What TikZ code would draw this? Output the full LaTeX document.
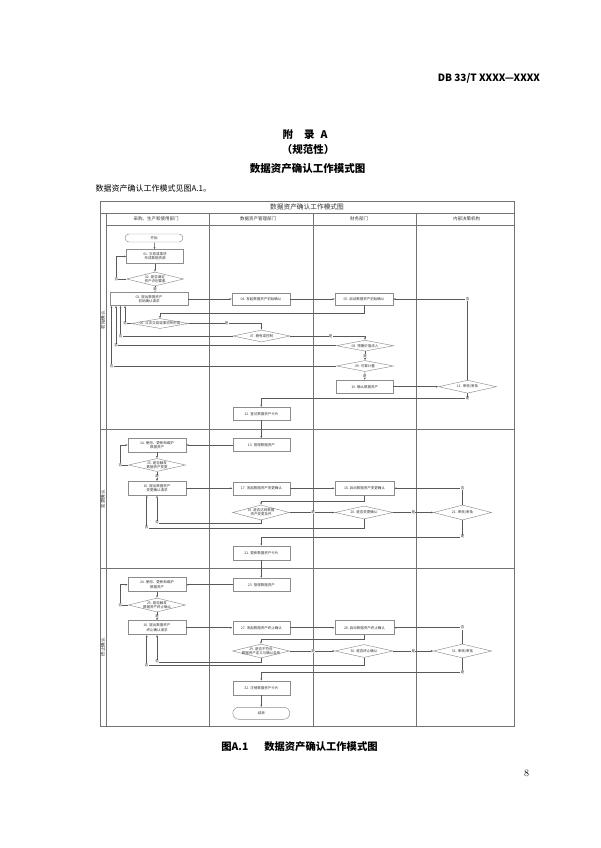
\documentclass[tikz,border=0pt]{standalone}
\usepackage{fontspec}
\newfontfamily\cjk{Noto Sans CJK SC}
\usepackage{xcolor}
\usepackage{tikz}
\usetikzlibrary{shapes,arrows.meta,calc,positioning}
\definecolor{framegray}{gray}{0.45}
\definecolor{linegray}{gray}{0.35}
\definecolor{boxgray}{gray}{0.55}
\definecolor{textgray}{gray}{0.2}
\tikzstyle{arrow} = [line width=0.45pt, draw=linegray, ->, >={Latex[length=2.2pt,width=2pt]}]
\tikzstyle{proc} = [rectangle, draw=boxgray, line width=0.45pt, minimum width=57pt, minimum height=13pt, inner sep=0.5pt, align=center, text=textgray, font=\cjk\fontsize{3.5}{4.3}\selectfont]
\tikzstyle{term} = [proc, rounded corners=4pt]
\tikzstyle{decision} = [diamond, draw=boxgray, line width=0.45pt, minimum width=57pt, minimum height=13pt, inner sep=0pt]
\tikzstyle{dtext} = [align=center, text=textgray, font=\cjk\fontsize{3.5}{4.3}\selectfont, inner sep=0pt]
\tikzstyle{lbl} = [fill=white, inner sep=0.3pt, text=textgray, font=\cjk\fontsize{3.5}{4}\selectfont]
\tikzstyle{head} = [text=textgray, font=\cjk\fontsize{4.5}{5}\selectfont]
\tikzstyle{lane} = [draw=framegray, line width=0.5pt]

\begin{document}
\begin{tikzpicture}[x=1pt,y=-1pt]
\useasboundingbox (0,0) rectangle (600,848);

% page text
\node[anchor=east, font=\cjk\bfseries\fontsize{10}{12}\selectfont] (hdr) at (543.5,78.5) {DB 33/T XXXX—XXXX};
\node[text=black!30, font=\fontsize{5}{5}\selectfont] (dots) at (313,98) {$\cdot\ \cdot$};
\node[font=\cjk\bfseries\fontsize{10.5}{12}\selectfont] (appx) at (305,135) {附\hspace{11pt}录\hspace{6pt}A};
\node[font=\cjk\bfseries\fontsize{10.5}{12}\selectfont] (norm) at (308,149.5) {（规范性）};
\node[font=\cjk\bfseries\fontsize{10.5}{12}\selectfont] (ttl) at (307.5,168.5) {数据资产确认工作模式图};
\node[anchor=west, font=\cjk\fontsize{8}{10}\selectfont] (body) at (92,188.5) {数据资产确认工作模式见图A.1。};
\node[font=\cjk\bfseries\fontsize{10.3}{12}\selectfont] (cap) at (299.5,746.7) {图A.1\hspace{16pt}数据资产确认工作模式图};
\node[font=\fontsize{10}{12}\selectfont] (pgno) at (526.7,773.3) {8};

% frame
\draw[lane] (100,201) rectangle (514,726);
\draw[lane] (100,213) -- (514,213);
\draw[lane] (106,225) -- (514,225);
\draw[lane] (100,429) -- (514,429);
\draw[lane] (100,568) -- (514,568);
\draw[lane] (106,213) -- (106,726);
\foreach \x in {209.5,313.5,416.7}
  \draw[lane] (\x,213) -- (\x,726);

\node[text=textgray, font=\cjk\fontsize{6.7}{8}\selectfont] (chart) at (307,207) {数据资产确认工作模式图};
\node[head] (h1) at (156,219) {采购、生产和使用部门};
\node[head] (h2) at (258,219) {数据资产管理部门};
\node[head] (h3) at (359,219) {财务部门};
\node[head] (h4) at (466.5,219) {内部决策机构};
\node[head, rotate=90] (ph1) at (103,320) {初始确认};
\node[head, rotate=90] (ph2) at (103,499) {变更确认};
\node[head, rotate=90] (ph3) at (103,647) {终止确认};

% initial recognition
\node[term, minimum width=58pt, minimum height=8pt] (start) at (154,238) {开始};
\node[proc, minimum height=14pt] (n01) at (155,256.5) {01. 交易或事项\\形成数据资源};
\node[decision, minimum height=14pt, label={[dtext]center:{02. 是否满足\\资产识别要素}}] (d02) at (155,279) {};
\node[proc, minimum width=78pt] (n03) at (149,299) {03. 提出数据资产\\初始确认请求};
\node[proc, minimum width=58pt, minimum height=12pt] (n04) at (261,299) {04. 发起数据资产初始确认};
\node[proc, minimum width=58pt, minimum height=12pt] (n05) at (364,299) {05. 启动数据资产初始确认};
\node[decision, minimum height=10pt, label={[dtext]center:{06. 过去交易或事项所形成}}] (d06) at (160,323.5) {};
\node[decision, minimum height=12pt, label={[dtext]center:{07. 拥有或控制}}] (d07) at (261.5,336) {};
\node[decision, minimum height=11pt, label={[dtext]center:{08. 预期价值流入}}] (d08) at (365,345.7) {};
\node[decision, minimum height=11pt, label={[dtext]center:{09. 可靠计量}}] (d09) at (365,366) {};
\node[proc] (n10) at (364.7,386.7) {10. 确认数据资产};
\node[decision, minimum width=58pt, label={[dtext]center:{11. 审核/审批}}] (d11) at (467.5,386.7) {};
\node[proc] (n12) at (261.3,413.7) {12. 登记数据资产卡片};

\draw[arrow] (start) -- (n01);
\draw[arrow] (n01) -- (d02);
\draw[arrow] (d02.south) -- node[lbl]{是} (d02.south |- n03.north);
\draw[arrow] (d02.west) -- ++(-10,0) node[lbl]{否} |- (n01.west);
\draw[arrow] (n03) -- (n04);
\draw[arrow] (n04) -- (n05);
\draw[arrow] (n05.south) -- ++(0,8) -| (d06.north);
\draw[arrow] (d06.east) -| node[lbl, pos=0.26]{是} (d07.north);
\draw[arrow] (d06.west) -| node[lbl, pos=0.5]{否} ([xshift=-24pt]n03.south);
\draw[arrow] (d07.east) -| node[lbl, pos=0.27]{是} (d08.north);
\draw[arrow] (d07.west) -| node[lbl, pos=0.5]{否} ([xshift=-28.5pt]n03.south);
\draw[arrow] (d08.south) -- node[lbl]{是} (d09.north);
\draw[arrow] (d08.west) -| node[lbl, pos=0.5]{否} ([xshift=-33pt]n03.south);
\draw[arrow] (d09.south) -- node[lbl]{是} (n10.north);
\draw[arrow] (d09.west) -| node[lbl, pos=0.5]{否} ([xshift=-37.5pt]n03.south);
\draw[arrow] (n10) -- (d11);
\draw[arrow] (d11.north) |- node[lbl, pos=0.5]{否} (n05.east);
\draw[arrow] (d11.south) -- ++(0,5) node[lbl]{是} -| (n12.north);

% change recognition
\node[proc] (n13) at (261.3,445) {13. 管理数据资产};
\node[proc, minimum width=58pt, minimum height=14pt] (n14) at (157,445) {14. 使用、更新和维护\\数据资产};
\node[decision, label={[dtext]center:{15. 是否触发\\数据资产变更}}] (d15) at (157,465) {};
\node[proc, minimum width=58pt, minimum height=14pt] (n16) at (157,488.3) {16. 提出数据资产\\变更确认请求};
\node[proc] (n17) at (261.3,488.3) {17. 发起数据资产变更确认};
\node[proc, minimum width=59pt, minimum height=14pt] (n18) at (364.5,488.3) {18. 启动数据资产变更确认};
\node[decision, minimum height=15pt, label={[dtext]center:{19. 是否达到数据\\资产变更条件}}] (d19) at (261,512.5) {};
\node[decision, minimum width=58pt, label={[dtext]center:{20. 是否变更确认}}] (d20) at (364,512.5) {};
\node[decision, minimum width=58pt, minimum height=15pt, label={[dtext]center:{21. 审核/审批}}] (d21) at (462.5,512.5) {};
\node[proc, minimum height=14pt] (n22) at (261.3,553) {22. 更新数据资产卡片};

\draw[arrow] (n12) -- (n13);
\draw[arrow] (n13) -- (n14);
\draw[arrow] (n14) -- (d15);
\draw[arrow] (d15.west) -- ++(-8,0) node[lbl]{否} |- (n14.west);
\draw[arrow] (d15) -- node[lbl]{是} (n16);
\draw[arrow] (n16) -- (n17);
\draw[arrow] (n17) -- (n18);
\draw[arrow] (n18.south) -- ++(0,6) -| (d19.north);
\draw[arrow] (d19.east) -- node[lbl, pos=0.52]{是} (d20.west);
\draw[arrow] (d20.east) -- node[lbl]{是} (d21.west);
\draw[arrow] (d21.north) |- node[lbl, pos=0.5]{否} (n18.east);
\draw[arrow] (d21.south) -- ++(0,16.5) node[lbl]{是} -| (n22.north);
\draw[arrow] (d19.south) -- ++(0,2.5) -| node[lbl, pos=0.5]{否} (n16.south);
\draw[arrow] (d20.south) -- ++(0,8.5) -| node[lbl, pos=0.5]{否} ([xshift=-10.3pt]n16.south);

% termination recognition
\node[proc] (n23) at (261.3,584.7) {23. 管理数据资产};
\node[proc, minimum width=58pt, minimum height=14pt] (n24) at (157,584.7) {24. 使用、更新和维护\\数据资产};
\node[decision, minimum height=14pt, label={[dtext]center:{25. 是否触发\\数据资产终止确认}}] (d25) at (157,605) {};
\node[proc, minimum width=58pt, minimum height=14pt] (n26) at (157,627.7) {26. 提出数据资产\\终止确认请求};
\node[proc] (n27) at (261.3,627.7) {27. 发起数据资产终止确认};
\node[proc, minimum width=59pt, minimum height=14pt] (n28) at (364.5,627.7) {28. 启动数据资产终止确认};
\node[decision, minimum height=14pt, label={[dtext]center:{29. 是否不符合\\数据资产定义与确认条件}}] (d29) at (261,651) {};
\node[decision, minimum width=58pt, label={[dtext]center:{30. 是否终止确认}}] (d30) at (364,651) {};
\node[decision, minimum width=58pt, minimum height=14pt, label={[dtext]center:{31. 审核/审批}}] (d31) at (462.5,651) {};
\node[proc, minimum height=14pt] (n32) at (261.3,688) {32. 注销数据资产卡片};
\node[term, minimum height=12pt, rounded corners=6pt] (stop) at (261.3,713.3) {结束};

\draw[arrow] (n22) -- (n23);
\draw[arrow] (n23) -- (n24);
\draw[arrow] (n24) -- (d25);
\draw[arrow] (d25.west) -- ++(-8,0) node[lbl]{否} |- (n24.west);
\draw[arrow] (d25) -- node[lbl]{是} (n26);
\draw[arrow] (n26) -- (n27);
\draw[arrow] (n27) -- (n28);
\draw[arrow] (n28.south) -- ++(0,4.5) -| (d29.north);
\draw[arrow] (d29.east) -- node[lbl, pos=0.52]{是} (d30.west);
\draw[arrow] (d30.east) -- node[lbl]{是} (d31.west);
\draw[arrow] (d31.north) |- node[lbl, pos=0.5]{否} (n28.east);
\draw[arrow] (d31.south) -- ++(0,14) node[lbl]{是} -| (n32.north);
\draw[arrow] (d29.south) -- ++(0,3.5) -| node[lbl, pos=0.5]{否} (n26.south);
\draw[arrow] (d30.south) -- ++(0,7.5) -| node[lbl, pos=0.5]{否} ([xshift=-10.3pt]n26.south);
\draw[arrow] (n32) -- (stop);

\end{tikzpicture}
\end{document}
